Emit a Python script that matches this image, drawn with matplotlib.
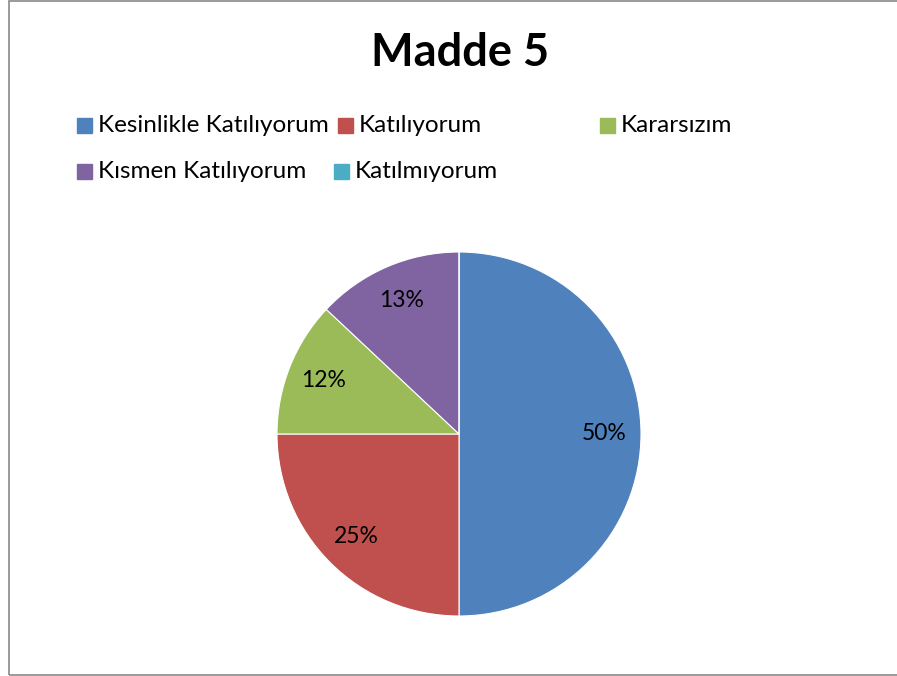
import matplotlib
matplotlib.use('Agg')
import matplotlib.pyplot as plt
from matplotlib.patches import Rectangle

# Madde 5 - katılım dağılımı (pasta grafik)

labels = ['Kesinlikle Katılıyorum', 'Katılıyorum', 'Kararsızım',
          'Kısmen Katılıyorum', 'Katılmıyorum']
values = [50, 25, 12, 13, 0]
colors = ['#4F81BD', '#C0504D', '#9BBB59', '#8064A2', '#4BACC6']
title = 'Madde 5'

plt.rcParams['font.family'] = ['Lato', 'DejaVu Sans']

W, H = 897, 676
fig = plt.figure(figsize=(W / 100, H / 100), dpi=100)

# çerçeve
fig.patches.append(Rectangle((9 / W, 1 / H), 1.0, 674 / H, transform=fig.transFigure,
                             fill=False, edgecolor='#898989', linewidth=1.2))

cx, cy, r = 459, 434, 182
ax = fig.add_axes([(cx - r) / W, (H - cy - r) / H, 2 * r / W, 2 * r / H])
ax.pie(values, colors=colors, startangle=90, counterclock=False, radius=1,
       autopct=lambda p: '%.0f%%' % p if p > 0 else '', pctdistance=0.8,
       wedgeprops=dict(edgecolor='white', linewidth=0.8),
       textprops=dict(fontsize=16.5, color='black'))
ax.set_xlim(-1, 1)
ax.set_ylim(-1, 1)
ax.set_aspect('equal')
ax.axis('off')

fig.text(460 / W, 1 - 53 / H, title, ha='center', va='center',
         fontsize=32.5, fontweight='bold')

# lejant (elle yerleştirildi)
pos = [(77, 125), (338, 125), (600, 125), (77, 171), (334, 171)]
for (x, y), lab, c in zip(pos, labels, colors):
    fig.patches.append(Rectangle((x / W, (H - y - 7.5) / H), 15 / W, 15 / H,
                                 transform=fig.transFigure, color=c))
    fig.text((x + 21) / W, 1 - y / H, lab, ha='left', va='center', fontsize=17.5)

fig.savefig('out.png', dpi=100)
